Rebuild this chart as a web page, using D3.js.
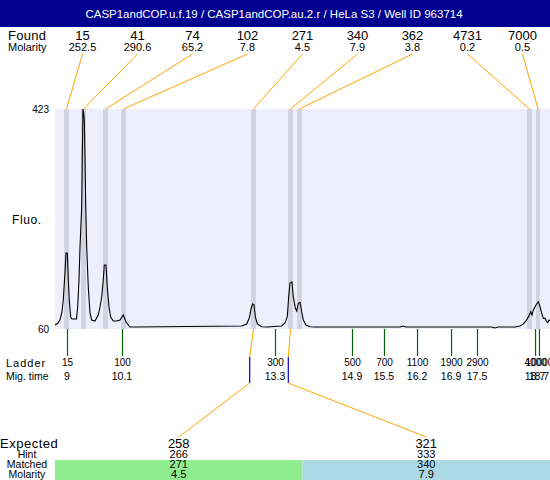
<!DOCTYPE html>
<html>
<head>
<meta charset="utf-8">
<script src="https://d3js.org/d3.v7.min.js"></script>
<style>
  html, body { margin: 0; padding: 0; background: #fff; }
  svg { display: block; font-family: "Liberation Sans", Arial, sans-serif; }
</style>
</head>
<body>
<svg id="chart" width="550" height="480"></svg>
<script>
// ---------------- data ----------------
const titleText = "CASP1andCOP.u.f.19 / CASP1andCOP.au.2.r / HeLa S3 / Well ID 963714";

// found peaks
const peakSizes    = [15, 41, 74, 102, 271, 340, 362, 4731, 7000];
const peakMolarity = [252.5, 290.6, 65.2, 7.8, 4.5, 7.9, 3.8, 0.2, 0.5];
const peakStart    = [8.922, 9.274, 9.729, 10.101, 12.788, 13.553, 13.739, 18.494, 18.680];
const peakEnd      = [9.026, 9.377, 9.832, 10.204, 12.891, 13.656, 13.842, 18.597, 18.763];

// ladder
const ladderSizes = [15, 100, 300, 500, 700, 1100, 1900, 2900, 4000, 10000];
const ladderTimes = [8.984, 10.121, 13.284, 14.876, 15.537, 16.220, 16.923, 17.460, 18.660, 18.741];

// expected / matched
const expectedSizes   = [258, 321];
const hintSizes       = [266, 333];
const matchedSizes    = [271, 340];
const matchedMolarity = [4.5, 7.9];
const matchedPeak     = [4, 5];
const hintTimes       = [12.761, 13.559];

// y-axis labels
const fluoTicks = [60, 423];

// electropherogram trace (migration time, fluorescence)
const traceTime = [
  8.736, 8.798, 8.839, 8.880, 8.907, 8.942, 8.963, 8.990, 9.011, 9.031, 9.060, 9.087,
  9.180, 9.205, 9.232, 9.253, 9.288, 9.300, 9.315, 9.327, 9.341, 9.356, 9.370, 9.391,
  9.424, 9.459, 9.494, 9.562, 9.631, 9.666, 9.701, 9.734, 9.755, 9.790, 9.817, 9.852,
  9.887, 9.941, 10.011, 10.079, 10.148, 10.204, 10.286, 10.390,
  12.596, 12.699, 12.753, 12.794, 12.823, 12.850, 12.877, 12.918, 13.009, 13.112,
  13.422, 13.491, 13.538, 13.567, 13.594, 13.635, 13.662, 13.704, 13.733, 13.766,
  13.801, 13.836, 13.869, 13.925, 14.008, 14.111,
  15.868, 15.930, 15.992, 17.770, 17.832, 17.894,
  18.246, 18.349, 18.417, 18.488, 18.541, 18.570, 18.597, 18.624, 18.680, 18.727,
  18.763, 18.798, 18.831, 18.866, 18.901, 18.922, 18.949, 18.969
];
const traceFluo = [
  66.6, 69.9, 74.9, 88.1, 107.9, 152.4, 185.4, 185.4, 140.9, 107.9, 79.8, 76.5,
  76.5, 96.3, 140.9, 195.3, 261.3, 342.2, 423.0, 418.0, 404.9, 343.8, 267.9, 195.3,
  129.3, 86.4, 74.9, 73.2, 83.1, 96.3, 112.8, 140.9, 165.6, 165.6, 129.3, 96.3,
  79.8, 73.2, 73.2, 74.9, 83.1, 71.6, 63.3, 63.3,
  65.0, 68.3, 78.2, 94.7, 101.3, 99.6, 80.3, 68.3, 63.8, 63.3,
  65.0, 69.9, 80.3, 113.3, 135.9, 137.6, 113.3, 94.7, 89.7, 102.4,
  104.1, 88.5, 74.9, 66.6, 63.8, 63.3,
  63.3, 65.0, 63.3, 63.3, 61.6, 63.3,
  63.3, 65.0, 68.3, 74.9, 83.1, 88.5, 83.1, 91.3, 99.6, 105.0,
  96.8, 85.9, 77.6, 77.6, 72.1, 70.5, 74.9, 73.7
];

// ---------------- layout ----------------
const W = 550, H = 480;
const plotL = 55, plotR = 550, plotT = 109, plotB = 329;

const svg = d3.select("#chart");

const x = d3.scaleLinear().domain([8.736, 18.969]).range([plotL, plotR]);
const y = d3.scaleLinear().domain([60, 423]).range([plotB, plotT]);

// title bar
svg.append("rect").attr("x", 0).attr("y", 0).attr("width", W).attr("height", 27).attr("fill", "#000090");
svg.append("text").attr("x", 274).attr("y", 18).attr("text-anchor", "middle")
  .attr("fill", "#fff").attr("font-size", 11.5).text(titleText);

// found / molarity header rows
const slot = d3.scaleBand().domain(d3.range(peakSizes.length)).range([plotL, plotR]);
svg.append("text").attr("x", 8).attr("y", 40).attr("font-size", 13).attr("letter-spacing", 0.3).text("Found");
svg.append("text").attr("x", 8).attr("y", 51).attr("font-size", 11).text("Molarity");
const fmt1 = d3.format(".1f");
svg.append("g").selectAll("text").data(peakSizes).join("text")
  .attr("x", (d, i) => slot(i) + slot.bandwidth() / 2).attr("y", 40)
  .attr("text-anchor", "middle").attr("font-size", 13).text(d => d);
svg.append("g").selectAll("text").data(peakMolarity).join("text")
  .attr("x", (d, i) => slot(i) + slot.bandwidth() / 2).attr("y", 51)
  .attr("text-anchor", "middle").attr("font-size", 11).text(d => fmt1(d));

// plot background
svg.append("rect").attr("x", plotL).attr("y", plotT).attr("width", plotR - plotL).attr("height", plotB - plotT)
  .attr("fill", "#eeeefd");

// peak bands
svg.append("g").selectAll("rect").data(peakStart).join("rect")
  .attr("x", (d) => x(d)).attr("y", plotT)
  .attr("width", (d, i) => x(peakEnd[i]) - x(d)).attr("height", plotB - plotT)
  .attr("fill", "#d3d3df");

// trace
svg.append("clipPath").attr("id", "clip").append("rect")
  .attr("x", plotL).attr("y", plotT - 1).attr("width", plotR - plotL).attr("height", plotB - plotT + 1);
const line = d3.line().x(d => x(d[0])).y(d => y(d[1]));
svg.append("path").datum(traceTime.map((t, i) => [t, traceFluo[i]]))
  .attr("clip-path", "url(#clip)")
  .attr("d", line).attr("fill", "none").attr("stroke", "#000").attr("stroke-width", 1.1);

// header connector lines
const peakMid = peakStart.map((s, i) => (s + peakEnd[i]) / 2);
svg.append("g").selectAll("line").data(peakMid).join("line")
  .attr("x1", (d, i) => slot(i) + slot.bandwidth() / 2).attr("y1", 54)
  .attr("x2", d => x(d)).attr("y2", plotT)
  .attr("stroke", "orange").attr("stroke-width", 1);

// y axis
const yAxis = d3.axisLeft(y).tickValues(fluoTicks).tickSize(0).tickPadding(0);
const yg = svg.append("g").attr("transform", `translate(49,0)`).call(yAxis);
yg.select(".domain").remove();
yg.selectAll("text").attr("font-size", 10).attr("font-family", "Liberation Sans, Arial, sans-serif").attr("fill", "#000");
svg.append("text").attr("x", 12).attr("y", 224).attr("font-size", 12).attr("letter-spacing", 0.6).text("Fluo.");

// ladder axis
const ladderAxis = d3.axisBottom(x).tickValues(ladderTimes).tickSize(27).tickPadding(3)
  .tickFormat((d, i) => ladderSizes[i]);
const lg = svg.append("g").attr("transform", `translate(0,${plotB})`).call(ladderAxis);
lg.select(".domain").remove();
lg.selectAll(".tick line").attr("stroke", "#006400").attr("stroke-width", 1.2);
lg.selectAll(".tick text").attr("font-size", 10).attr("font-family", "Liberation Sans, Arial, sans-serif").attr("fill", "#000");
svg.append("text").attr("x", 6).attr("y", 367).attr("font-size", 11).attr("letter-spacing", 1).text("Ladder");
svg.append("text").attr("x", 6).attr("y", 380).attr("font-size", 10.5).text("Mig. time");
const fmtT = d3.format(".1~f");
svg.append("g").selectAll("text").data(ladderTimes).join("text")
  .attr("x", d => x(d)).attr("y", 380).attr("text-anchor", "middle")
  .attr("font-size", 10.5).text(d => fmtT(d));

// expected block
const col = d3.scaleBand().domain(d3.range(expectedSizes.length)).range([plotL, plotR]);
const colors = ["#90ee90", "#add8e6"];
svg.append("g").selectAll("rect").data(expectedSizes).join("rect")
  .attr("x", (d, i) => col(i)).attr("y", 460).attr("width", col.bandwidth()).attr("height", 20)
  .attr("fill", (d, i) => colors[i]);

const cx = i => col(i) + col.bandwidth() / 2;
// connectors from matched peak to expected label
matchedPeak.forEach((p, i) => {
  const hx = x(hintTimes[i]);
  svg.append("line").attr("x1", x(peakMid[p])).attr("y1", plotB).attr("x2", hx).attr("y2", 357)
    .attr("stroke", "orange").attr("stroke-width", 1);
  svg.append("line").attr("x1", hx).attr("y1", 357).attr("x2", hx).attr("y2", 383)
    .attr("stroke", "#0000cc").attr("stroke-width", 1.2);
  svg.append("line").attr("x1", hx).attr("y1", 383).attr("x2", cx(i)).attr("y2", 437)
    .attr("stroke", "orange").attr("stroke-width", 1);
});

svg.append("text").attr("x", 0).attr("y", 448).attr("font-size", 13).attr("letter-spacing", 0.5).text("Expected");
const rowLabels = [["Hint", 457.5], ["Matched", 468], ["Molarity", 477.5]];
rowLabels.forEach(([t, yy]) => {
  svg.append("text").attr("x", 27).attr("y", yy).attr("text-anchor", "middle").attr("font-size", 10.5).text(t);
});
const rows = [[expectedSizes, 448, 13, d => d], [hintSizes, 457.5, 11, d => d],
              [matchedSizes, 468, 11, d => d], [matchedMolarity, 477.5, 11, d => fmt1(d)]];
rows.forEach(([arr, yy, fs, f]) => {
  svg.append("g").selectAll("text").data(arr).join("text")
    .attr("x", (d, i) => cx(i)).attr("y", yy).attr("text-anchor", "middle")
    .attr("font-size", fs).text(f);
});
</script>
</body>
</html>
